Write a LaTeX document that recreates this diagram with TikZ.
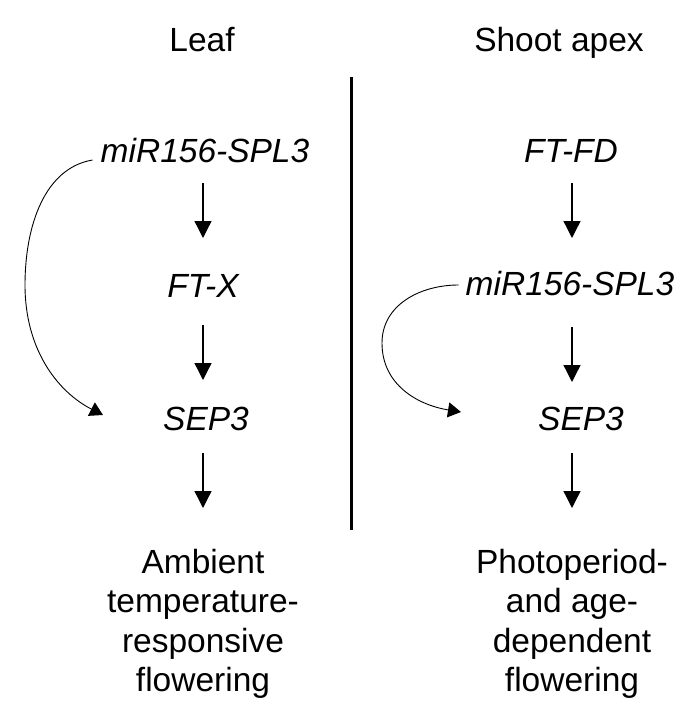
\documentclass[tikz,border=0pt]{standalone}
\usepackage{fontspec}
\setmainfont{Liberation Sans}
\usetikzlibrary{arrows.meta}
\begin{document}
\begin{tikzpicture}[x=1pt,y=-1pt,
  lbl/.style={inner sep=0pt,anchor=base,font=\fontsize{33.5}{39}\selectfont},
  gene/.style={lbl,font=\fontsize{33.5}{39}\selectfont\itshape},
  outcome/.style={inner sep=0pt,anchor=north,align=center,font=\fontsize{33.5}{39.3}\selectfont},
  arr/.style={line width=1.3pt,-{Triangle[length=17pt,width=17pt]}},
  curvarr/.style={line width=0.9pt,-{Triangle[length=13pt,width=15pt]}},
  divider/.style={line width=3pt}]
\useasboundingbox (0,0) rectangle (700,725);
% headers
\node[lbl] (leaf) at (202,52) {Leaf};
\node[lbl] (apex) at (559,52) {Shoot apex};
% divider
\coordinate (dtop) at (351,77);
\coordinate (dbot) at (351,530);
\draw[divider] (dtop) -- (dbot);
% left column
\node[gene] (mL) at (205,162) {miR156-SPL3};
\node[gene] (fL) at (203,297) {FT-X};
\node[gene] (sL) at (206,430) {SEP3};
\node[outcome] (oL) at (203,549) {Ambient\\temperature-\\responsive\\flowering};
\draw[arr] ([xshift=-2pt,yshift=-21pt]mL.base) -- ([yshift=59pt]fL.base);
\draw[arr] ([yshift=-28pt]fL.base) -- ([xshift=-3pt,yshift=50pt]sL.base);
\draw[arr] ([xshift=-3pt,yshift=-23pt]sL.base) -- ([yshift=41pt]oL.north);
\draw[curvarr] ([xshift=-8pt,yshift=2pt]mL.base west) .. controls (45,168) and (25,225) .. (25,285)
   .. controls (25,350) and (58,392) .. ([xshift=-60pt,yshift=15pt]sL.base west);
% right column
\node[gene] (fdR) at (571,162) {FT-FD};
\node[gene] (mR) at (570,295) {miR156-SPL3};
\node[gene] (sR) at (581,430) {SEP3};
\node[outcome] (oR) at (572,549) {Photoperiod-\\and age-\\dependent\\flowering};
\draw[arr] ([xshift=1pt,yshift=-21pt]fdR.base) -- ([xshift=2pt,yshift=57pt]mR.base);
\draw[arr] ([xshift=2pt,yshift=-32pt]mR.base) -- ([xshift=-9pt,yshift=48pt]sR.base);
\draw[arr] ([xshift=-9pt,yshift=-23pt]sR.base) -- ([xshift=0pt,yshift=41pt]oR.north);
\draw[curvarr] ([xshift=-7pt,yshift=10pt]mR.base west) .. controls (420,285) and (382,305) .. (382,343)
   .. controls (382,385) and (418,405) .. ([xshift=-77pt,yshift=18pt]sR.base west);
\end{tikzpicture}
\end{document}
